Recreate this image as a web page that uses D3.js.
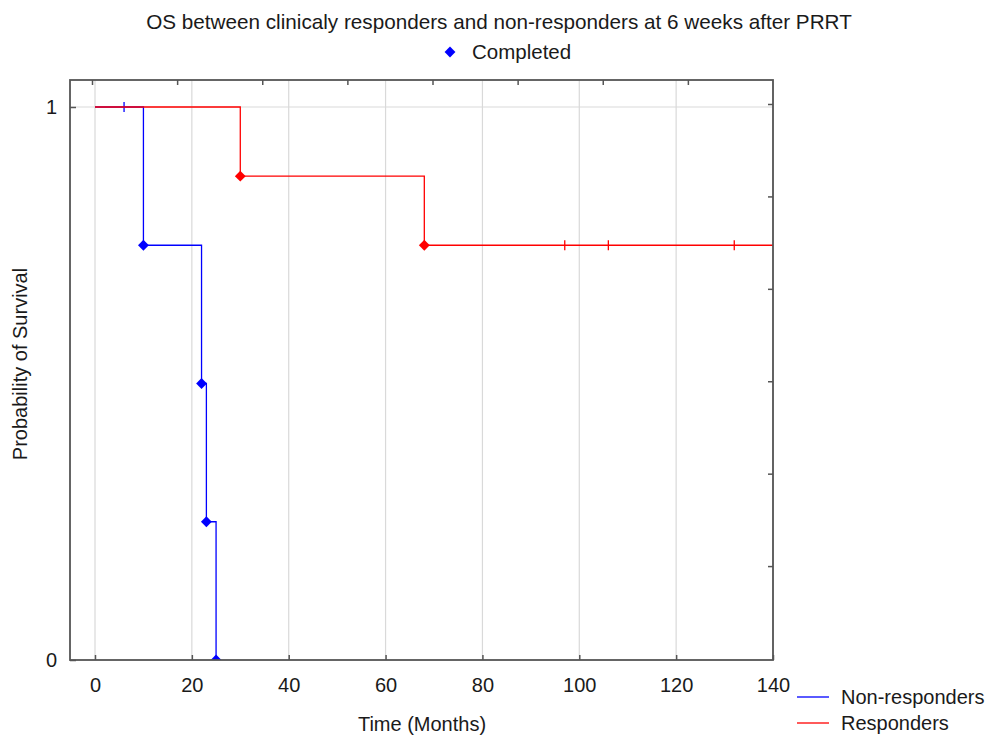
<!DOCTYPE html>
<html>
<head>
<meta charset="utf-8">
<script src="https://cdn.jsdelivr.net/npm/d3@7/dist/d3.min.js"></script>
<style>
    body { margin: 0; background: #fff; }
    text { font-family: "Liberation Sans", Arial, sans-serif; fill: #1a1a1a; }
</style>
</head>
<body>
<div id="km_chart"></div>
<script>
// 数据
const title = "OS between clinicaly responders and non-responders at 6 weeks after PRRT";
const x_ticks = [0, 20, 40, 60, 80, 100, 120, 140];
const y_ticks = [0, 1];

// 非应答组 (blue)
const non_resp_time = [0, 10, 22, 23, 25];
const non_resp_surv = [1, 0.75, 0.5, 0.25, 0];
const non_resp_censored = [6];

// 应答组 (red)
const resp_time = [0, 30, 68, 140];
const resp_surv = [1, 0.875, 0.75, 0.75];
const resp_censored = [97, 106, 132];

const series = [
    {name: "Non-responders", color: "#0000ff", time: non_resp_time, surv: non_resp_surv, censored: non_resp_censored, events: 4},
    {name: "Responders", color: "#ff0000", time: resp_time, surv: resp_surv, censored: resp_censored, events: 2}
];

(function () {
    "use strict";
    let width = 991,
        height = 738;

    const frame = {left: 70, top: 80, right: 773, bottom: 660};
    const axis_color = "#555",
        grid_color = "#d9d9d9",
        font_size = "20px";

    let svg = d3.select("#km_chart")
        .append("svg")
        .attr("width", width)
        .attr("height", height);

    svg.append("defs").append("clipPath")
        .attr("id", "plot_clip")
        .append("rect")
        .attr("x", frame.left).attr("y", frame.top)
        .attr("width", frame.right - frame.left)
        .attr("height", frame.bottom - frame.top);

    let x = d3.scaleLinear().domain([0, 140]).range([95, 773]);
    let y = d3.scaleLinear().domain([0, 1]).range([660, 107]);
    // 次坐标轴 (unlabelled ticks on top / right)
    let x2 = d3.scaleLinear().domain([0, 8]).range([92, 773]);
    let y2 = d3.scaleLinear().domain([0, 6]).range([658.5, 104]);

    // 网格线
    svg.append("g").selectAll("line")
        .data(x_ticks)
        .enter()
        .append("line")
        .attr("x1", d => x(d)).attr("x2", d => x(d))
        .attr("y1", frame.top).attr("y2", frame.bottom)
        .attr("stroke", grid_color).attr("stroke-width", 1.2);
    svg.append("line")
        .attr("x1", frame.left).attr("x2", frame.right)
        .attr("y1", y(1)).attr("y2", y(1))
        .attr("stroke", grid_color).attr("stroke-width", 1.2);

    // 坐标轴
    let bottom_axis = svg.append("g")
        .attr("transform", `translate(0,${frame.bottom})`)
        .call(d3.axisBottom(x).tickValues(x_ticks).tickSize(-5).tickPadding(18));
    let left_axis = svg.append("g")
        .attr("transform", `translate(${frame.left},0)`)
        .call(d3.axisLeft(y).tickValues(y_ticks).tickFormat(d3.format("d")).tickSize(-6).tickPadding(13));
    let top_axis = svg.append("g")
        .attr("transform", `translate(0,${frame.top})`)
        .call(d3.axisTop(x2).tickValues(d3.range(0, 8)).tickSize(-5).tickFormat(""));
    let right_axis = svg.append("g")
        .attr("transform", `translate(${frame.right},0)`)
        .call(d3.axisRight(y2).tickValues(d3.range(1, 7)).tickSize(-5).tickFormat(""));

    [bottom_axis, left_axis, top_axis, right_axis].forEach(g => {
        g.select(".domain").remove();
        g.selectAll(".tick line").attr("stroke", axis_color).attr("stroke-width", 1.5);
        g.selectAll(".tick text")
            .style("font-family", "'Liberation Sans', Arial, sans-serif")
            .style("font-size", font_size)
            .attr("fill", "#1a1a1a");
    });

    // 生存曲线
    let line = d3.line()
        .x(d => x(d[0]))
        .y(d => y(d[1]))
        .curve(d3.curveStepAfter);

    function survAt(s, t) {
        let v = s.surv[0];
        s.time.forEach((tt, i) => { if (tt <= t) v = s.surv[i]; });
        return v;
    }

    let diamond = d3.symbol().type(d3.symbolDiamond2).size(75);

    series.forEach(s => {
        let pts = s.time.map((t, i) => [t, s.surv[i]]);
        let g = svg.append("g").attr("clip-path", "url(#plot_clip)");
        g.append("path")
            .attr("d", line(pts))
            .attr("fill", "none")
            .attr("stroke", s.color)
            .attr("stroke-width", 1.3);

        g.selectAll(".event")
            .data(pts.slice(1, 1 + s.events))
            .enter()
            .append("path")
            .attr("class", "event")
            .attr("d", diamond)
            .attr("transform", d => `translate(${x(d[0])},${y(d[1])})`)
            .attr("fill", s.color);

        g.selectAll(".censor")
            .data(s.censored)
            .enter()
            .append("line")
            .attr("class", "censor")
            .attr("x1", d => x(d)).attr("x2", d => x(d))
            .attr("y1", d => y(survAt(s, d)) - 5)
            .attr("y2", d => y(survAt(s, d)) + 5)
            .attr("stroke", s.color)
            .attr("stroke-width", 1.3);
    });

    svg.append("rect")
        .attr("x", frame.left).attr("y", frame.top)
        .attr("width", frame.right - frame.left)
        .attr("height", frame.bottom - frame.top)
        .attr("fill", "none")
        .attr("stroke", axis_color)
        .attr("stroke-width", 1.8);

    // 标题
    svg.append("text")
        .attr("x", 499).attr("y", 29)
        .attr("text-anchor", "middle")
        .style("font-size", "20.7px")
        .text(title);

    svg.append("path")
        .attr("d", diamond)
        .attr("transform", "translate(450,52)")
        .attr("fill", "#0000ff");
    svg.append("text")
        .attr("x", 472).attr("y", 59)
        .style("font-size", "20.5px")
        .text("Completed");

    // 轴标题
    svg.append("text")
        .attr("x", 422).attr("y", 731)
        .attr("text-anchor", "middle")
        .style("font-size", font_size)
        .text("Time (Months)");
    svg.append("text")
        .attr("transform", "translate(27,364) rotate(-90)")
        .attr("text-anchor", "middle")
        .style("font-size", font_size)
        .text("Probability of Survival");

    // 图例
    let legend = svg.append("g")
        .selectAll("g")
        .data(series)
        .enter()
        .append("g")
        .attr("transform", (d, i) => `translate(797,${697 + i * 26})`);
    legend.append("line")
        .attr("x1", 0).attr("x2", 32)
        .attr("stroke", d => d.color)
        .attr("stroke-width", 1.3);
    legend.append("text")
        .attr("x", 44).attr("y", 7)
        .style("font-size", font_size)
        .text(d => d.name);
})();
</script>
</body>
</html>
